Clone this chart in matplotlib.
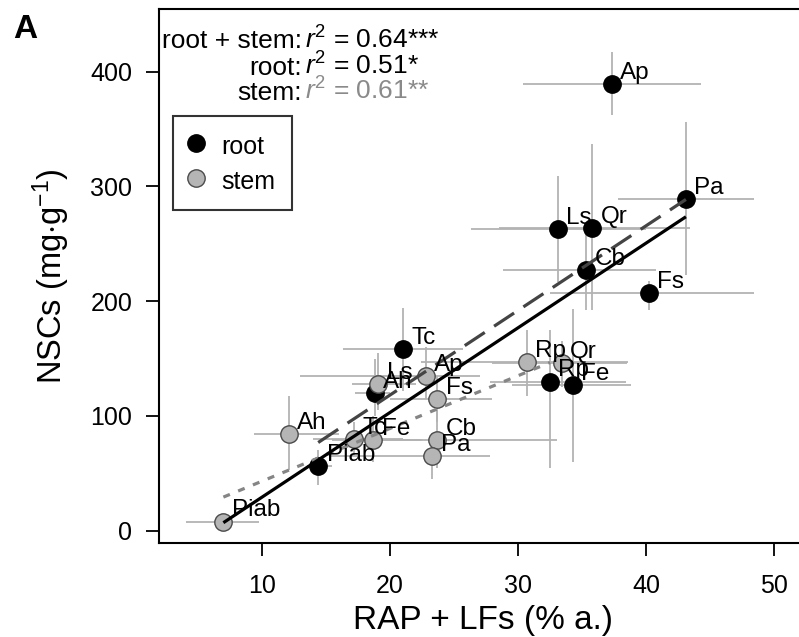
import numpy as np
import matplotlib
matplotlib.use('Agg')
import matplotlib.pyplot as plt
from matplotlib.lines import Line2D

plt.rcParams['font.family'] = ['Liberation Sans', 'DejaVu Sans']
plt.rcParams['mathtext.fontset'] = 'custom'
plt.rcParams['mathtext.rm'] = 'Liberation Sans'
plt.rcParams['mathtext.it'] = 'Liberation Sans:italic'

# root NSCs (black)
root_names = ['Ap', 'Pa', 'Ls', 'Qr', 'Cb', 'Fs', 'Tc', 'Ah', 'Piab', 'Rp', 'Fe']
root_x = [37.3, 43.1, 33.1, 35.8, 35.3, 40.2, 21.0, 18.8, 14.4, 32.5, 34.3]
root_y = [389, 289, 263, 264, 227, 207, 158, 120, 56, 130, 127]
root_x_lo = [30.4, 37.8, 26.3, 28.5, 28.8, 32.5, 16.3, 17.3, 13.5, 27.8, 29.5]
root_x_hi = [44.3, 48.4, 40.0, 43.4, 40.8, 48.4, 25.7, 20.0, 15.5, 38.4, 38.8]
root_y_lo = [362, 223, 217, 192, 192, 192, 122, 100, 40, 55, 60]
root_y_hi = [417, 356, 309, 337, 259, 218, 194, 150, 70, 175, 193]

# stem NSCs (grey)
stem_names = ['Rp', 'Qr', 'Ap', 'Ls', 'Fs', 'Ah', 'Tc', 'Fe', 'Cb', 'Pa', 'Piab']
stem_x = [30.7, 33.4, 22.8, 19.1, 23.7, 12.1, 17.2, 18.7, 23.7, 23.3, 7.0]
stem_y = [147, 146, 135, 128, 115, 84, 80, 79, 79, 65, 8]
stem_x_lo = [22.4, 28.0, 13.0, 17.0, 20.0, 9.4, 14.0, 15.5, 17.0, 15.3, 4.1]
stem_x_hi = [38.6, 38.5, 27.0, 22.0, 28.0, 16.0, 21.0, 22.5, 33.0, 27.8, 9.8]
stem_y_lo = [117, 125, 115, 105, 95, 53, 65, 60, 55, 45, 3]
stem_y_hi = [175, 165, 160, 155, 135, 117, 95, 100, 105, 85, 12]

# regression lines: (x from, x to, intercept, slope)
fit_all = (7.0, 43.1, -44.7, 7.385)
fit_root = (14.4, 43.1, -29.4, 7.38)
fit_stem = (7.0, 32.5, -2.9, 4.6)

r2_labels = ['root + stem:', 'root:', 'stem:']
r2_values = [r'$r^2$ = 0.64***', r'$r^2$ = 0.51*', r'$r^2$ = 0.61**']

fig = plt.figure(figsize=(7.99, 6.37), dpi=100)
# axes run past the right edge of the figure, as in the cropped original
ax = fig.add_axes([0.1994, 0.148, 0.8098, 0.8378])

err_col = '#b3b3b3'
for xs, ys, xl, xh, yl, yh in [(root_x, root_y, root_x_lo, root_x_hi, root_y_lo, root_y_hi),
                               (stem_x, stem_y, stem_x_lo, stem_x_hi, stem_y_lo, stem_y_hi)]:
    xs = np.array(xs); ys = np.array(ys)
    xerr = [xs - np.array(xl), np.array(xh) - xs]
    yerr = [ys - np.array(yl), np.array(yh) - ys]
    ax.errorbar(xs, ys, xerr=xerr, yerr=yerr, fmt='none', ecolor=err_col,
                elinewidth=1.3, capsize=0, zorder=1)

ax.plot(root_x, root_y, 'o', ms=12.5, mfc='black', mec='black', zorder=3)
ax.plot(stem_x, stem_y, 'o', ms=12.5, mfc='#b5b5b5', mec='#4a4a4a', mew=1.0, zorder=3)

for (x0, x1, b, m), col, ls in [(fit_stem, '#858585', (0, (2.2, 2.8))),
                                 (fit_root, '#444444', (0, (7.5, 3.5))),
                                 (fit_all, 'black', '-')]:
    xx = np.array([x0, x1])
    ax.plot(xx, b + m * xx, color=col, lw=2.3, ls=ls, zorder=4, solid_capstyle='butt')

for names, xs, ys in [(root_names, root_x, root_y), (stem_names, stem_x, stem_y)]:
    for n, x, y in zip(names, xs, ys):
        ax.annotate(n, (x, y), xytext=(6, 8), textcoords='offset points',
                    fontsize=17.5, ha='left', va='center', zorder=5)

ax.set_xlim(2, 52.5)
ax.set_ylim(-10.46, 454.6)
ax.set_xticks([10, 20, 30, 40, 50])
ax.set_yticks([0, 100, 200, 300, 400])
ax.tick_params(direction='out', length=9.5, width=1.3, labelsize=18, pad=10)
ax.tick_params(axis='x', pad=13)
for s in ax.spines.values():
    s.set_linewidth(1.5)

ax.set_xlabel('RAP + LFs (% a.)', fontsize=24, labelpad=5)
ax.set_ylabel(r'NSCs (mg$\cdot$g$^{-1}$)', fontsize=23.5, labelpad=13)

# r2 text block
ys_txt = [0.9264, 0.8763, 0.8295]
cols = ['black', 'black', '#8a8a8a']
for lab, val, yy, c in zip(r2_labels, r2_values, ys_txt, cols):
    ax.text(0.2206, yy, lab, transform=ax.transAxes, ha='right', va='baseline', fontsize=19)
    ax.text(0.2246, yy, val, transform=ax.transAxes, ha='left', va='baseline', fontsize=19, color=c)

handles = [Line2D([], [], ls='none', marker='o', ms=12.5, mfc='black', mec='black'),
           Line2D([], [], ls='none', marker='o', ms=12.5, mfc='#b5b5b5', mec='#4a4a4a')]
leg = ax.legend(handles, ['root', 'stem'], loc='upper left', bbox_to_anchor=(0.0207, 0.800),
                fontsize=18, frameon=True, fancybox=False, borderpad=0.65,
                labelspacing=0.3, handleheight=1.3, handletextpad=0.7,
                handlelength=0.6, borderaxespad=0)
leg.get_frame().set_edgecolor('black')
leg.get_frame().set_linewidth(1.5)

fig.text(0.016, 0.94, 'A', fontsize=24, fontweight='bold')

plt.savefig('out.png', dpi=100)
